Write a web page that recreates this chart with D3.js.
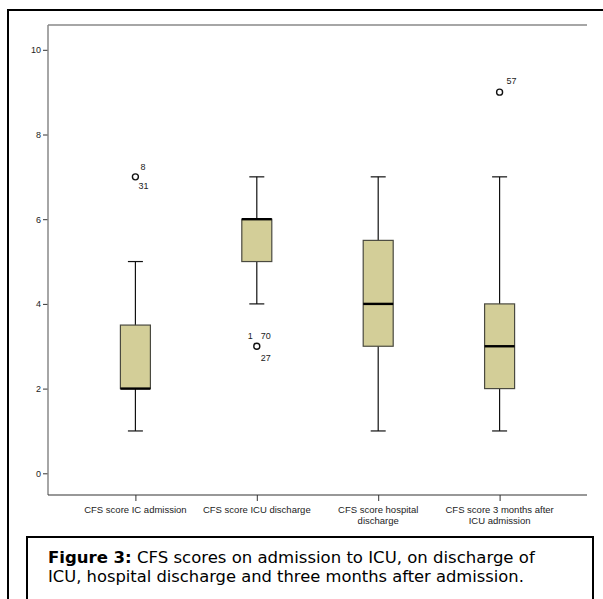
<!DOCTYPE html>
<html>
<head>
<meta charset="utf-8">
<script src="https://cdn.jsdelivr.net/npm/d3@7"></script>
<style>
  html, body { margin: 0; padding: 0; background: #fff; }
  svg { display: block; }
</style>
</head>
<body>
<div id="chart"></div>
<script>
// categories (x axis labels, split in lines)
var categories = ["CFS score IC admission", "CFS score ICU discharge", "CFS score hospital discharge", "CFS score 3 months after ICU admission"];
var labelLines = [["CFS score IC admission"], ["CFS score ICU discharge"], ["CFS score hospital", "discharge"], ["CFS score 3 months after", "ICU admission"]];

// box statistics
var whiskerLow  = [1, 4, 1, 1];
var q1          = [2, 5, 3, 2];
var median      = [2, 6, 4, 3];
var q3          = [3.5, 6, 5.5, 4];
var whiskerHigh = [5, 7, 7, 7];

// outliers: group index, value, case ids
var outlierGroup = [0, 1, 3];
var outlierValue = [7, 3, 9];
var outlierIds   = [["8", "31"], ["1", "70", "27"], ["57"]];

var yTicks = [0, 2, 4, 6, 8, 10];

var width = 603, height = 599;

var svg = d3.select("#chart")
    .append("svg")
    .attr("width", width)
    .attr("height", height);

// outer frame of the figure
svg.append("rect")
    .attr("x", 8).attr("y", 10)
    .attr("width", 640).attr("height", 640)
    .attr("fill", "none")
    .attr("stroke", "#000")
    .attr("stroke-width", 2);

var plotLeft = 48, plotRight = 587, plotTop = 25, plotBottom = 495;

var x = d3.scalePoint()
    .domain(categories)
    .range([plotLeft, plotRight])
    .padding(0.72);

var y = d3.scaleLinear()
    .domain([0, 10])
    .range([473.3, 49.8]);

// plot frame: top and left gray, bottom dark
svg.append("line")
    .attr("x1", plotLeft).attr("x2", plotRight)
    .attr("y1", plotTop).attr("y2", plotTop)
    .attr("stroke", "#888").attr("stroke-width", 1.5);

// y axis
var yAxis = svg.append("g")
    .attr("transform", "translate(" + plotLeft + ",0)")
    .call(d3.axisLeft(y).tickValues(yTicks).tickSize(5).tickPadding(2).tickFormat(d3.format("d")));
yAxis.select(".domain").remove();
yAxis.selectAll(".tick line").attr("stroke", "#333");
yAxis.selectAll("text")
    .attr("fill", "#222")
    .style("font-family", "Liberation Sans, Arial, sans-serif")
    .style("font-size", "9px");
svg.append("line")
    .attr("x1", plotLeft).attr("x2", plotLeft)
    .attr("y1", plotTop).attr("y2", plotBottom)
    .attr("stroke", "#888").attr("stroke-width", 1.5);

// x axis
var xAxis = svg.append("g")
    .attr("transform", "translate(0," + plotBottom + ")")
    .call(d3.axisBottom(x).tickSize(6).tickFormat(""));
xAxis.select(".domain").remove();
xAxis.selectAll(".tick line").attr("stroke", "#333");
svg.append("line")
    .attr("x1", plotLeft).attr("x2", plotRight)
    .attr("y1", plotBottom).attr("y2", plotBottom)
    .attr("stroke", "#333").attr("stroke-width", 1.2);

var xLabels = svg.append("g")
    .selectAll("text")
    .data(categories)
    .enter()
    .append("text")
    .attr("text-anchor", "middle")
    .attr("fill", "#222")
    .style("font-family", "Liberation Sans, Arial, sans-serif")
    .style("font-size", "9.5px")
    .attr("transform", function(d) { return "translate(" + x(d) + "," + (plotBottom + 18) + ")"; });
xLabels.selectAll("tspan")
    .data(function(d, i) { return labelLines[i]; })
    .enter()
    .append("tspan")
    .attr("x", 0)
    .attr("dy", function(d, i) { return i === 0 ? 0 : 11; })
    .text(function(d) { return d; });

// boxes
var boxW = 30, capW = 15;
var boxes = svg.append("g")
    .selectAll("g")
    .data(categories)
    .enter()
    .append("g");

// whiskers
boxes.append("line")
    .attr("x1", function(d) { return x(d); })
    .attr("x2", function(d) { return x(d); })
    .attr("y1", function(d, i) { return y(whiskerLow[i]); })
    .attr("y2", function(d, i) { return y(whiskerHigh[i]); })
    .attr("stroke", "#111").attr("stroke-width", 1.2);
boxes.selectAll(".cap")
    .data(function(d, i) { return [[d, whiskerLow[i]], [d, whiskerHigh[i]]]; })
    .enter()
    .append("line")
    .attr("class", "cap")
    .attr("x1", function(d) { return x(d[0]) - capW / 2; })
    .attr("x2", function(d) { return x(d[0]) + capW / 2; })
    .attr("y1", function(d) { return y(d[1]); })
    .attr("y2", function(d) { return y(d[1]); })
    .attr("stroke", "#111").attr("stroke-width", 1.2);

boxes.append("rect")
    .attr("x", function(d) { return x(d) - boxW / 2; })
    .attr("y", function(d, i) { return y(q3[i]); })
    .attr("width", boxW)
    .attr("height", function(d, i) { return y(q1[i]) - y(q3[i]); })
    .attr("fill", "#d3ce98")
    .attr("stroke", "#4a4a40")
    .attr("stroke-width", 1.2);

boxes.append("line")
    .attr("x1", function(d) { return x(d) - boxW / 2; })
    .attr("x2", function(d) { return x(d) + boxW / 2; })
    .attr("y1", function(d, i) { return y(median[i]); })
    .attr("y2", function(d, i) { return y(median[i]); })
    .attr("stroke", "#000").attr("stroke-width", 2.4);

// outliers
var labelOffsets = {
    1: [[7, -8]],
    2: [[5, -7], [3, 12]],
    3: [[-9, -7], [4, -7], [4, 15]]
};
var outs = svg.append("g")
    .selectAll("g")
    .data(outlierValue)
    .enter()
    .append("g")
    .attr("transform", function(d, i) { return "translate(" + x(categories[outlierGroup[i]]) + "," + y(d) + ")"; });
outs.append("circle")
    .attr("r", 3)
    .attr("fill", "none")
    .attr("stroke", "#111")
    .attr("stroke-width", 1.4);
outs.selectAll("text")
    .data(function(d, i) {
        var ids = outlierIds[i];
        return ids.map(function(id, k) { return { id: id, off: labelOffsets[ids.length][k] }; });
    })
    .enter()
    .append("text")
    .attr("x", function(d) { return d.off[0]; })
    .attr("y", function(d) { return d.off[1]; })
    .attr("fill", "#222")
    .style("font-family", "Liberation Sans, Arial, sans-serif")
    .style("font-size", "9px")
    .text(function(d) { return d.id; });

// caption box
svg.append("rect")
    .attr("x", 27).attr("y", 537)
    .attr("width", 566).attr("height", 100)
    .attr("fill", "#fff")
    .attr("stroke", "#000")
    .attr("stroke-width", 2);

var captionLines = [
    [["Figure 3:", true], [" CFS scores on admission to ICU, on discharge of", false]],
    [["ICU, hospital discharge and three months after admission.", false]]
];
var captionWidths = [487, 476];
captionLines.forEach(function(parts, li) {
    var t = svg.append("text")
        .attr("x", 48)
        .attr("y", 563 + li * 19)
        .attr("fill", "#000")
        .style("font-family", "'Century Gothic', 'DejaVu Sans', sans-serif")
        .style("font-size", "15px");
    parts.forEach(function(p) {
        t.append("tspan")
            .style("font-weight", p[1] ? "bold" : "normal")
            .text(p[0]);
    });
    // fit the line to the width seen in the picture
    var w = t.node().getComputedTextLength();
    t.style("font-size", (15 * captionWidths[li] / w) + "px");
});
</script>
</body>
</html>
